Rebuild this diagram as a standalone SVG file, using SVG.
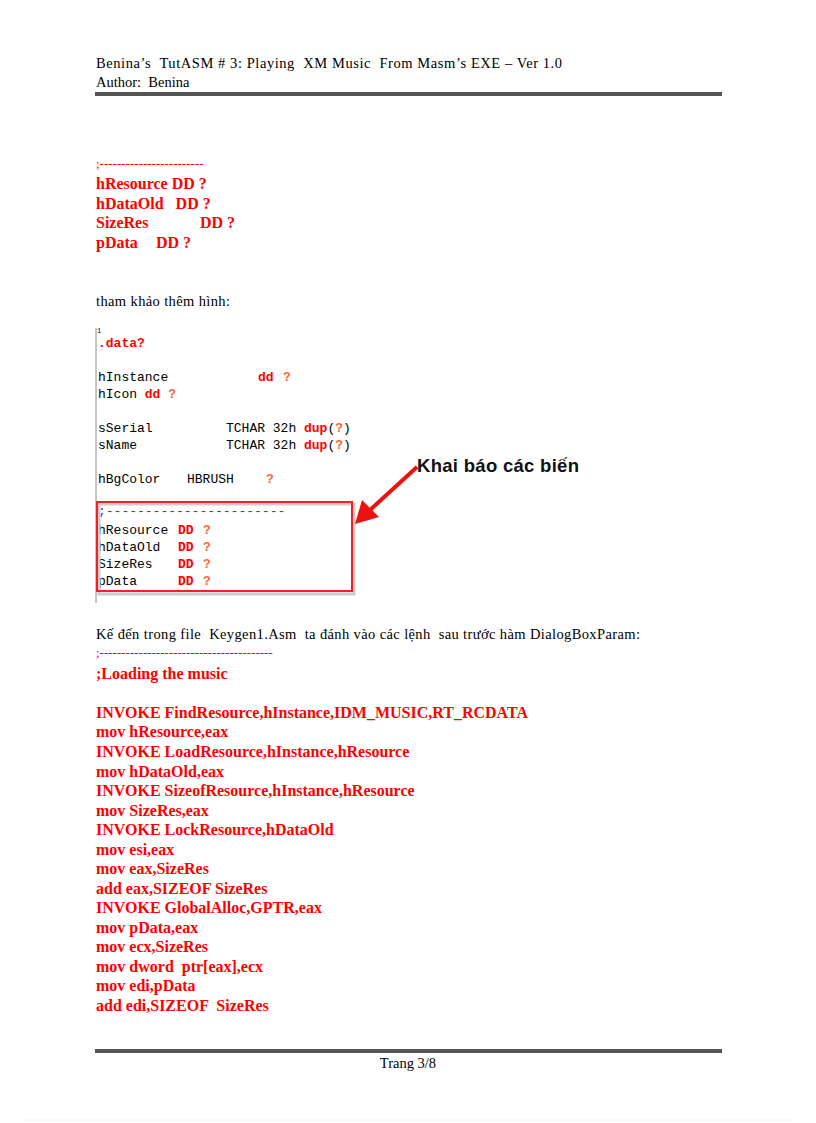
<svg xmlns="http://www.w3.org/2000/svg" width="816" height="1123" viewBox="0 0 816 1123" xml:space="preserve">
<style>
text{white-space:pre}
.h{font-family:"Liberation Serif",serif;font-size:14.5px;fill:#000}
.r{font-family:"Liberation Serif",serif;font-size:16px;font-weight:bold;fill:#ff0000}
.m{font-family:"Liberation Mono",monospace;font-size:13px;fill:#000}
.k{fill:#ff0000;font-weight:bold}
.q{fill:#ff6633;font-weight:bold}
</style>
<rect width="816" height="1123" fill="#fff"/>
<text class="h" x="96" y="68" textLength="466">Benina’s  TutASM # 3: Playing  XM Music  From Masm’s EXE – Ver 1.0</text>
<text class="h" x="96" y="87">Author:  Benina</text>
<rect x="95" y="92" width="627" height="4" fill="#555"/>
<text class="r" x="96" y="168" style="font-weight:normal;font-size:13px">;------------------------</text>
<text class="r" x="96" y="189">hResource DD ?</text>
<text class="r" x="96" y="209">hDataOld   DD ?</text>
<text class="r" x="96" y="228">SizeRes<tspan x="200">DD ?</tspan></text>
<text class="r" x="96" y="248">pData<tspan x="156">DD ?</tspan></text>
<text class="h" x="96" y="306" textLength="134">tham khảo thêm hình:</text>
<g id="screenshot">
<line x1="96" y1="328" x2="96" y2="603" stroke="#888"/>
<text class="m" x="97" y="333" style="font-size:7px">1</text>
<text class="m k" x="98" y="347">.data?</text>
<text class="m" x="98" y="381">hInstance<tspan class="k" x="258">dd</tspan><tspan class="q" x="283">?</tspan></text>
<text class="m" x="98" y="398">hIcon <tspan class="k">dd</tspan> <tspan class="q">?</tspan></text>
<text class="m" x="98" y="432">sSerial<tspan x="226">TCHAR 32h </tspan><tspan class="k">dup</tspan>(<tspan class="q">?</tspan>)</text>
<text class="m" x="98" y="449">sName<tspan x="226">TCHAR 32h </tspan><tspan class="k">dup</tspan>(<tspan class="q">?</tspan>)</text>
<text class="m" x="98" y="483">hBgColor<tspan x="187">HBRUSH</tspan><tspan class="q" x="266">?</tspan></text>
<text class="m" x="98" y="515" style="fill:#3333ff">;-----------------------</text>
<text class="m" x="98" y="534">hResource<tspan class="k" x="178">DD</tspan><tspan class="q" x="203">?</tspan></text>
<text class="m" x="98" y="551">hDataOld<tspan class="k" x="178">DD</tspan><tspan class="q" x="203">?</tspan></text>
<text class="m" x="98" y="568">SizeRes<tspan class="k" x="178">DD</tspan><tspan class="q" x="203">?</tspan></text>
<text class="m" x="98" y="585">pData<tspan class="k" x="178">DD</tspan><tspan class="q" x="203">?</tspan></text>
<rect x="99" y="504" width="255" height="90" fill="none" stroke="#ccc" stroke-width="3"/>
<rect x="97" y="502" width="255" height="89" fill="none" stroke="#ee2222" stroke-width="2"/>
<line x1="417" y1="467" x2="370" y2="510" stroke="#ee1111" stroke-width="4"/>
<polygon points="355,524 362,500 379,517" fill="#ee1111"/>
<text x="417" y="472" style="font-family:'Liberation Sans',sans-serif;font-size:18.5px;font-weight:bold;fill:#111" textLength="162">Khai báo các biến</text>
</g>
<text class="h" x="96" y="639" textLength="544">Kế đến trong file  Keygen1.Asm  ta đánh vào các lệnh  sau trước hàm DialogBoxParam:</text>
<text class="r" x="96" y="657" style="font-weight:normal;font-size:13px">;----------------------------------------</text>
<text class="r" x="96" y="679">;Loading the music</text>
<text class="r" x="96" y="718">INVOKE FindResource,hInstance,IDM_MUSIC,RT_RCDATA</text>
<text class="r" x="96" y="737">mov hResource,eax</text>
<text class="r" x="96" y="757">INVOKE LoadResource,hInstance,hResource</text>
<text class="r" x="96" y="777">mov hDataOld,eax</text>
<text class="r" x="96" y="796">INVOKE SizeofResource,hInstance,hResource</text>
<text class="r" x="96" y="816">mov SizeRes,eax</text>
<text class="r" x="96" y="835">INVOKE LockResource,hDataOld</text>
<text class="r" x="96" y="855">mov esi,eax</text>
<text class="r" x="96" y="874">mov eax,SizeRes</text>
<text class="r" x="96" y="894">add eax,SIZEOF SizeRes</text>
<text class="r" x="96" y="913">INVOKE GlobalAlloc,GPTR,eax</text>
<text class="r" x="96" y="933">mov pData,eax</text>
<text class="r" x="96" y="952">mov ecx,SizeRes</text>
<text class="r" x="96" y="972">mov dword  ptr[eax],ecx</text>
<text class="r" x="96" y="991">mov edi,pData</text>
<text class="r" x="96" y="1011">add edi,SIZEOF  SizeRes</text>
<rect x="95" y="1049" width="627" height="4" fill="#555"/>
<text class="h" x="408" y="1068" text-anchor="middle">Trang 3/8</text>
<line x1="25" y1="1120" x2="790" y2="1120" stroke="#ccc" stroke-dasharray="1,3"/>
</svg>
